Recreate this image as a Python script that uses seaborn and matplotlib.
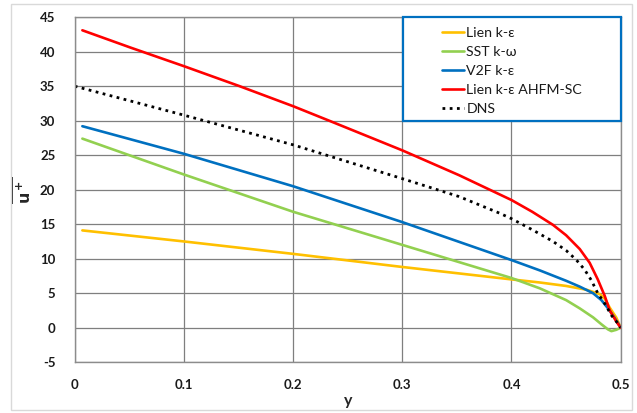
import matplotlib
matplotlib.use("Agg")
import matplotlib.pyplot as plt
import seaborn as sns
from matplotlib.patches import Rectangle

sns.set_theme(style="white")
plt.rcParams["font.family"] = ["Lato", "DejaVu Sans"]
plt.rcParams["axes.unicode_minus"] = False

# Mean velocity profiles across the half channel
lien_y = [0.007, 0.1, 0.2, 0.3, 0.4, 0.426, 0.45, 0.4688, 0.481, 0.4854, 0.490, 0.496, 0.5]
lien_u = [14.1, 12.5, 10.7, 8.8, 7.0, 6.55, 6.05, 5.5, 4.85, 4.2, 2.9, 1.45, 0.0]

sst_y = [0.007, 0.1, 0.2, 0.3, 0.4, 0.426, 0.45, 0.4625, 0.4747, 0.4823, 0.4884, 0.4915, 0.496, 0.5]
sst_u = [27.4, 22.2, 16.8, 12.0, 7.2, 5.7, 4.0, 2.8, 1.5, 0.5, -0.25, -0.5, -0.3, 0.0]

v2f_y = [0.007, 0.1, 0.2, 0.3, 0.4, 0.426, 0.45, 0.4625, 0.4747, 0.4823, 0.4884, 0.4945, 0.5]
v2f_u = [29.2, 25.2, 20.5, 15.3, 9.8, 8.3, 6.8, 5.95, 5.0, 4.0, 2.8, 1.4, 0.0]

ahfm_y = [0.007, 0.051, 0.1, 0.151, 0.2, 0.233, 0.3, 0.352, 0.4, 0.419, 0.438, 0.45,
          0.4625, 0.4716, 0.479, 0.4854, 0.490, 0.496, 0.5]
ahfm_u = [43.1, 40.6, 37.9, 35.0, 32.1, 30.0, 25.7, 22.1, 18.5, 16.8, 14.9, 13.4,
          11.4, 9.4, 7.0, 4.6, 2.5, 0.9, 0.0]

dns_y = [0.0, 0.1, 0.2, 0.3, 0.352, 0.389, 0.4, 0.419, 0.438, 0.45, 0.4595, 0.467,
         0.473, 0.479, 0.4854, 0.4915, 0.4975, 0.5]
dns_u = [35.0, 30.8, 26.5, 21.6, 19.0, 16.6, 15.8, 14.2, 12.5, 11.2, 9.8, 8.4,
         6.9, 5.0, 3.5, 1.8, 0.6, 0.0]

x_ticks = [0, 0.1, 0.2, 0.3, 0.4, 0.5]
x_tick_labels = ["0", "0.1", "0.2", "0.3", "0.4", "0.5"]
y_ticks = [-5, 0, 5, 10, 15, 20, 25, 30, 35, 40, 45]

fig = plt.figure(figsize=(6.37, 4.13), dpi=100)
fig.patches.append(Rectangle((11 / 637, 3 / 413), 621 / 637, 406 / 413,
                             transform=fig.transFigure, fill=False,
                             edgecolor="#d9d9d9", linewidth=1.0))
ax = fig.add_axes([0.1173, 0.123, 0.9744 - 0.1173, 0.9584 - 0.123])

series = [
    (lien_y, lien_u, "Lien k-ε", "#FFC000"),
    (sst_y, sst_u, "SST k-ω", "#92D050"),
    (v2f_y, v2f_u, "V2F k-ε", "#0070C0"),
    (ahfm_y, ahfm_u, "Lien k-ε AHFM-SC", "#FF0000"),
]
for xs, ys, name, color in series:
    sns.lineplot(x=xs, y=ys, ax=ax, color=color, linewidth=1.9, label=name,
                 sort=False, estimator=None)
sns.lineplot(x=dns_y, y=dns_u, ax=ax, color="black", linewidth=2.0,
             linestyle=(0, (1, 1.6)), label="DNS", sort=False, estimator=None)

ax.set_xlim(0, 0.5)
ax.set_ylim(-5, 45)
ax.set_xticks(x_ticks)
ax.set_xticklabels(x_tick_labels)
ax.set_yticks(y_ticks)
ax.grid(True, color="#7f7f7f", linewidth=0.9)
for s in ax.spines.values():
    s.set_color("#8c8c8c")
    s.set_linewidth(1.0)
ax.tick_params(axis="both", length=0, labelsize=9.5, labelcolor="#1a1a1a")
ax.tick_params(axis="x", pad=12)
ax.tick_params(axis="y", pad=14)
for lbl in ax.get_xticklabels() + ax.get_yticklabels():
    lbl.set_fontweight("bold")

ax.set_xlabel("y", fontsize=11.5, fontweight="bold", labelpad=2)
ax.set_ylabel(r"$\mathbf{\overline{u^+}}$", fontsize=11.5, labelpad=4)

# Legend box with a blue outline, entries set in from its left edge
box = Rectangle((0.6007, 0.700), 0.3993, 0.300, transform=ax.transAxes,
                facecolor="white", edgecolor="#0070C0", linewidth=1.6,
                zorder=4, clip_on=False)
ax.add_patch(box)
leg = ax.legend(loc="upper left", bbox_to_anchor=(0.672, 0.972), frameon=False,
                fontsize=10.2, handlelength=1.6, handletextpad=0.15,
                labelspacing=0.5, borderpad=0.0, borderaxespad=0.0)
leg.set_zorder(5)
for t in leg.get_texts():
    t.set_color("#1a1a1a")

fig.savefig("out.png", dpi=100)
